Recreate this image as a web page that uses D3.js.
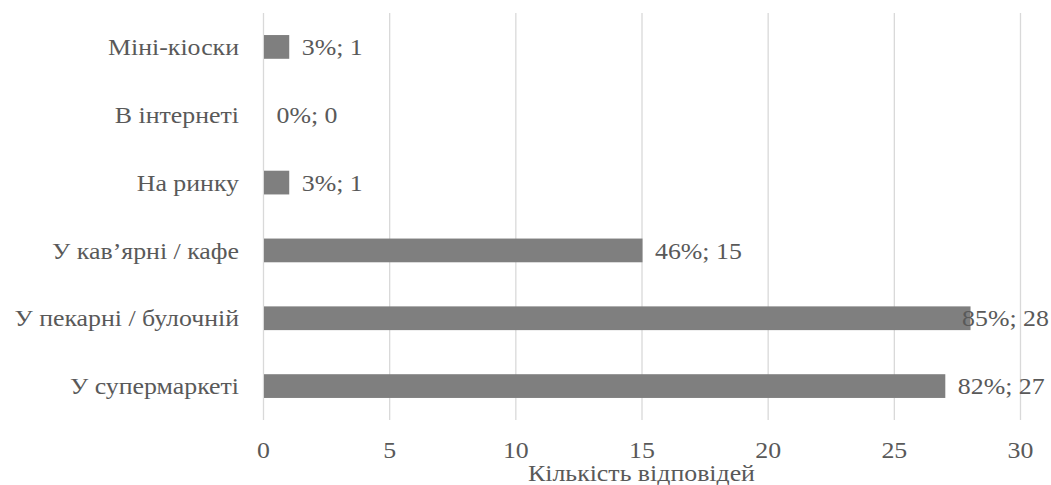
<!DOCTYPE html>
<html>
<head>
<meta charset="utf-8">
<script src="https://cdn.jsdelivr.net/npm/d3@7"></script>
<style>
  html, body { margin: 0; padding: 0; background: #fff; }
  svg { display: block; }
</style>
</head>
<body>
<svg id="chart" width="1051" height="485"></svg>
<script>
// Where respondents buy baked goods: answer counts and shares
const categories = ["Міні-кіоски", "В інтернеті", "На ринку", "У кав’ярні / кафе", "У пекарні / булочній", "У супермаркеті"];
const counts = [1, 0, 1, 15, 28, 27];
const shares = ["3%", "0%", "3%", "46%", "85%", "82%"];
const xTicks = [0, 5, 10, 15, 20, 25, 30];
const xTitle = "Кількість відповідей";

const W = 1051, H = 485;
const margin = { top: 13, right: 31, bottom: 65, left: 263 };
const fontSize = 23.5;
const stretch = 1.1;           // slightly widened lettering
const fontFamily = '"Liberation Serif"';
const textColor = "#595959";

const svg = d3.select("#chart");
const g = svg.append("g").attr("transform", `translate(${margin.left},${margin.top})`);
const iw = W - margin.left - margin.right;
const ih = H - margin.top - margin.bottom;

const x = d3.scaleLinear().domain([0, 30]).range([0, iw]);
const y = d3.scaleBand().domain(categories).range([0, ih]).paddingInner(0.65).paddingOuter(0.325);

function styleText(sel) {
  return sel.style("font-family", fontFamily)
    .style("font-size", fontSize + "px")
    .style("fill", textColor);
}
const place = (px, py) => `translate(${px},${py}) scale(${stretch},1)`;

// vertical gridlines
g.append("g").selectAll("line").data(xTicks).join("line")
  .attr("x1", d => x(d) + 0.5).attr("x2", d => x(d) + 0.5)
  .attr("y1", 0).attr("y2", ih)
  .attr("stroke", "#d9d9d9").attr("stroke-width", 1.3);

// bars
const rows = categories.map((c, i) => ({ c, v: counts[i], s: shares[i] }));
g.append("g").selectAll("rect").data(rows).join("rect")
  .attr("x", x(0) + 1)
  .attr("y", d => y(d.c))
  .attr("width", d => Math.max(0, x(d.v) - x(0)))
  .attr("height", y.bandwidth())
  .attr("fill", "#7f7f7f");

// category axis labels
g.append("g").selectAll("text").data(categories).join("text")
  .attr("transform", d => place(-24, y(d) + y.bandwidth() / 2))
  .attr("dy", "0.35em")
  .attr("text-anchor", "end")
  .call(styleText)
  .text(d => d);

// value labels, kept inside the chart's right edge
const maxRight = W - margin.left - 2;
g.append("g").selectAll("text").data(rows).join("text")
  .attr("dy", "0.35em")
  .call(styleText)
  .text(d => `${d.s}; ${d.v}`)
  .attr("transform", function (d) {
    const w = this.getComputedTextLength() * stretch;
    return place(Math.min(x(d.v) + 13.5, maxRight - w), y(d.c) + y.bandwidth() / 2);
  });

// x axis tick labels
const xAxis = d3.axisBottom(x).tickValues(xTicks).tickSize(0).tickPadding(0).tickFormat(d3.format("d"));
const ax = g.append("g").attr("transform", `translate(0,${ih})`).call(xAxis);
ax.select(".domain").remove();
ax.selectAll("text")
  .call(styleText)
  .attr("dy", null)
  .attr("y", null)
  .attr("transform", place(0, 37.5));

// axis title
g.append("text")
  .attr("transform", place(iw / 2, ih + 61))
  .attr("text-anchor", "middle")
  .call(styleText)
  .text(xTitle);
</script>
</body>
</html>
